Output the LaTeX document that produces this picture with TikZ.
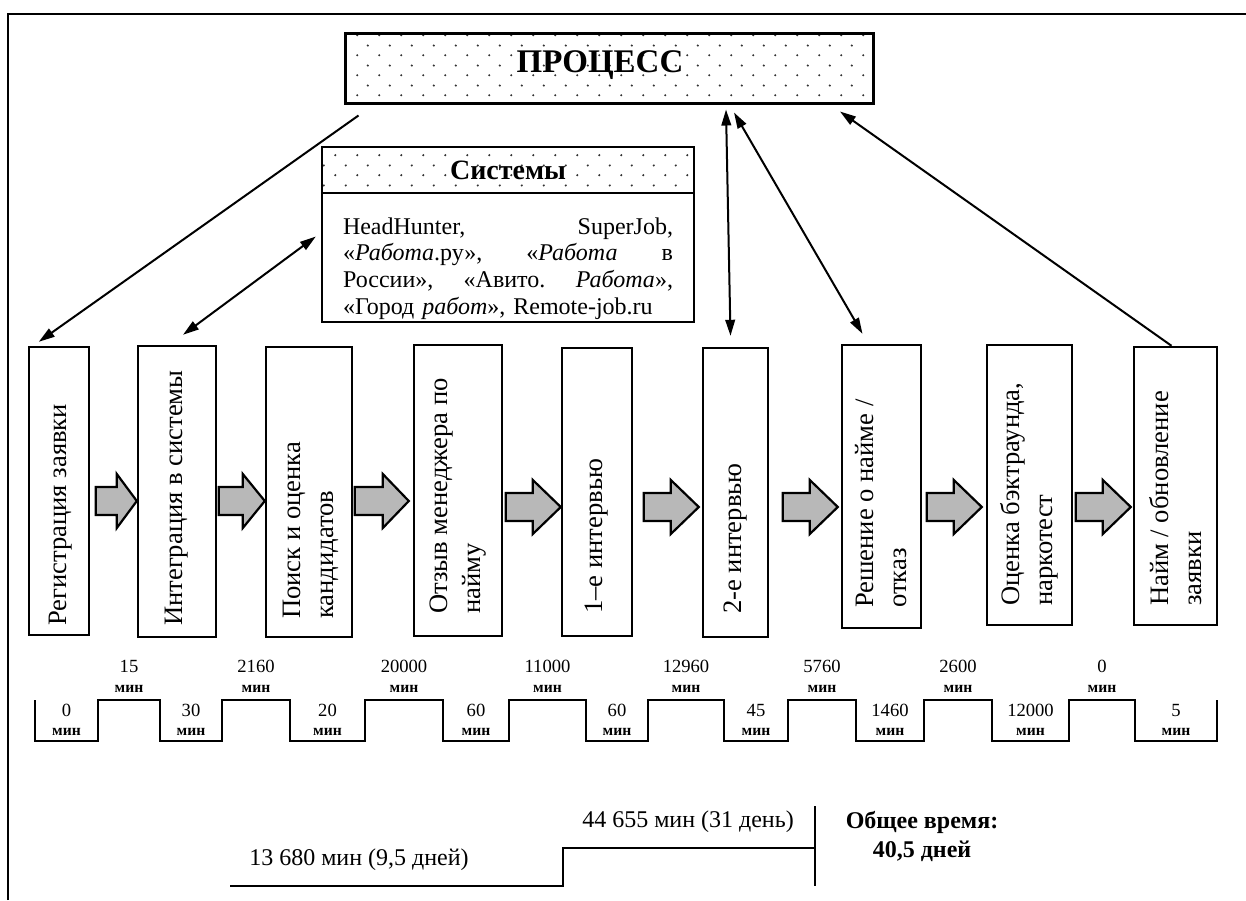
\documentclass[tikz,border=0pt]{standalone}
\usepackage{fontspec}
\setmainfont{Liberation Serif}
\usetikzlibrary{arrows.meta,calc,patterns}

% sparse staggered dot fill for the title boxes
\pgfdeclarepatternformonly{sparsedots}{\pgfqpoint{0pt}{0pt}}{\pgfqpoint{11pt}{10pt}}{\pgfqpoint{11pt}{10pt}}{%
  \pgfpathcircle{\pgfqpoint{2.75pt}{2.5pt}}{0.6pt}%
  \pgfpathcircle{\pgfqpoint{8.25pt}{7.5pt}}{0.6pt}%
  \pgfusepath{fill}}

\newcommand\pxu{0.5pt}

\begin{document}
\begin{tikzpicture}[x=0.5pt,y=-0.5pt,
  frame/.style={line width=1pt},
  dotbox/.style={draw, line width=1.3pt, pattern=sparsedots, pattern color=black!80, inner sep=0pt},
  plainbox/.style={draw, line width=1.2pt, fill=white, inner sep=0pt},
  stepbox/.style={draw, line width=1.2pt, inner sep=0pt},
  steptext/.style={rotate=90, anchor=west, inner sep=0pt, align=left, font=\fontsize{13.3}{16.5}\selectfont},
  blockarrow/.style={draw, line width=1.1pt, fill=black!28, line join=miter},
  conn/.style={line width=1pt},
  ctip/.tip={Triangle[length=8pt,width=4.8pt]},
  num/.style={inner sep=0pt, font=\fontsize{9.3}{10}\selectfont},
  unit/.style={inner sep=0pt, font=\fontsize{7.8}{8}\selectfont\bfseries},
  note/.style={inner sep=0pt, font=\fontsize{12}{14}\selectfont},
  boldnote/.style={inner sep=0pt, font=\fontsize{12}{14}\selectfont\bfseries}
]
\useasboundingbox (0,0) rectangle (1246,900);

% page frame
\draw[frame] (8,900) -- (8,14) -- (1246,14);

% process title
\node[dotbox, line width=1.5pt, minimum width=528*\pxu, minimum height=70*\pxu] (proc) at (609,68) {};
\node[inner sep=0pt, font=\fontsize{16.5}{18}\selectfont\bfseries] (proctitle)
  at ($(proc.center)+(-9,-3)$) {ПРОЦЕСС};

% systems block
\node[dotbox, minimum width=372*\pxu, minimum height=46*\pxu,
      font=\fontsize{14}{16}\selectfont\bfseries] (syshead) at (508,170) {Системы};
\node[plainbox, minimum width=372*\pxu, minimum height=129*\pxu] (sysbody) at (508,257.5) {};
\node[inner sep=0pt, text width=165pt, align=left, font=\fontsize{12}{13.4}\selectfont]
  (syslist) at ($(sysbody.center)+(0,11)$)
  {\makebox[165pt][l]{HeadHunter,\hfill SuperJob,}\\
   \makebox[165pt][l]{«\textit{Работа}.ру»,\hfill «\textit{Работа}\hfill в}\\
   \makebox[165pt][l]{России»,\hfill «Авито.\hfill \textit{Работа}»,}\\
   «Город \textit{работ}», Remote-job.ru};

% process steps
\node[stepbox, minimum width=60*\pxu, minimum height=288*\pxu] (b1) at (59,491) {};
\node[stepbox, minimum width=78*\pxu, minimum height=291*\pxu] (b2) at (177,491.5) {};
\node[stepbox, minimum width=86*\pxu, minimum height=290*\pxu] (b3) at (309,492) {};
\node[stepbox, minimum width=88*\pxu, minimum height=291*\pxu] (b4) at (458,490.5) {};
\node[stepbox, minimum width=70*\pxu, minimum height=288*\pxu] (b5) at (597,492) {};
\node[stepbox, minimum width=65*\pxu, minimum height=289*\pxu] (b6) at (735.5,492.5) {};
\node[stepbox, minimum width=79*\pxu, minimum height=283*\pxu] (b7) at (881.5,486.5) {};
\node[stepbox, minimum width=85*\pxu, minimum height=280*\pxu] (b8) at (1029.5,485) {};
\node[stepbox, minimum width=83*\pxu, minimum height=278*\pxu] (b9) at (1175.5,486) {};

\node[steptext] (t1) at ($(b1.south)+(2,-10)$) {Регистрация заявки};
\node[steptext] (t2) at ($(b2.south)+(0,-12)$) {Интеграция в системы};
\node[steptext] (t3) at ($(b3.south)+(2,-19)$) {Поиск и оценка\\кандидатов};
\node[steptext] (t4) at ($(b4.south)+(0,-23)$) {Отзыв менеджера по\\найму};
\node[steptext] (t5) at ($(b5.south)+(0,-23)$) {1–е интервью};
\node[steptext] (t6) at ($(b6.south)+(0,-24)$) {2-е интервью};
\node[steptext] (t7) at ($(b7.south)+(0,-21)$) {Решение о найме /\\отказ};
\node[steptext] (t8) at ($(b8.south)+(0,-20)$) {Оценка бэктраунда,\\наркотест};
\node[steptext] (t9) at ($(b9.south)+(0,-20)$) {Найм / обновление\\заявки};

% block arrows between the steps
\coordinate (ya) at (0,501);
\coordinate (yb) at (0,507);
\foreach \sa/\sb/\len/\hl/\gap/\ym in {b1/b2/41/20/0/ya, b2/b3/46/22/0/ya, b3/b4/54/26/4/ya,
    b4/b5/55/28/0/yb, b5/b6/55/28/3/yb, b6/b7/55/28/3/yb, b7/b8/55/28/4/yb, b8/b9/55/28/2/yb}
  \draw[blockarrow] ($(\sb.west |- \ym)+(-\gap,0)$) -- ++(-\hl,-27) -- ++(0,13)
    -- ++({-(\len-\hl)},0) -- ++(0,28) -- ++({\len-\hl},0) -- ++(0,13) -- cycle;

% links between the process, the systems and the steps
\draw[conn,-ctip] ($(proc.south west)+(15,11)$) -- ($(b1.north west)+(11,-4)$);
\draw[conn,ctip-ctip] ($(sysbody.west)+(-5,-21)$) -- ($(b2.north)+(6,-10)$);
\draw[conn,ctip-ctip] ($(proc.south)+(117,5)$) -- ($(b6.north)+(-5,-11)$);
\draw[conn,ctip-ctip] ($(proc.south)+(125,8)$) -- ($(b7.north)+(-19,-10)$);
\draw[conn,-ctip] ($(b9.north)+(-4,0)$) -- ($(proc.south)+(231,7)$);

% time line of the steps
\draw[line width=1pt] (35,700) |- (98,741) |- (160,700) |- (222,741) |- (290,700)
  |- (365,741) |- (443,700) |- (509,741) |- (586,700) |- (648,741) |- (724,700)
  |- (788,741) |- (856,700) |- (924,741) |- (992,700) |- (1069,741) |- (1135,700)
  |- (1217,741) -- (1217,700);

\foreach \x/\v [count=\i] in {66.5/0, 191/30, 327.5/20, 476/60, 617/60, 756/45,
    890/1460, 1030.5/12000, 1176/5} {
  \node[num] (lo\i) at (\x,710) {\v};
  \node[unit] (lou\i) at (\x,732) {мин};
}
\foreach \x/\v [count=\i] in {129/15, 256/2160, 404/20000, 547.5/11000, 686/12960,
    822/5760, 958/2600, 1102/0} {
  \node[num] (hi\i) at (\x,666) {\v};
  \node[unit] (hiu\i) at (\x,689) {мин};
}

% totals
\draw[line width=1pt] (230,886) -| (563,848) -- (815,848);
\draw[line width=1pt] (815,806) -- (815,886);
\node[note] (first) at (359,860) {13 680 мин (9,5 дней)};
\node[note] (second) at (688,822) {44 655 мин (31 день)};
\node[boldnote] (totalhead) at (922,822) {Общее время:};
\node[boldnote] (totalval) at (922,851) {40,5 дней};

\end{tikzpicture}
\end{document}
